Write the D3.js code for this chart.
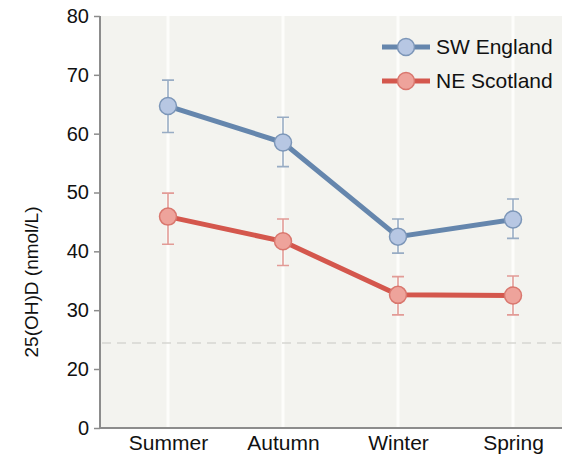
<!DOCTYPE html>
<html lang="en">
<head>
  <meta charset="UTF-8">
  <title>25(OH)D by season</title>
  <script src="https://cdn.jsdelivr.net/npm/d3@7"></script>
  <style>
    body { margin: 0; background: #fff; }
    svg { display: block; font-family: "Liberation Sans", Arial, sans-serif; }
  </style>
</head>
<body>
<div id="chart"></div>
<script>
  // data
  const seasons = ["Summer", "Autumn", "Winter", "Spring"];
  const swMean = [64.7, 58.5, 42.5, 45.4];
  const swLow  = [60.2, 54.4, 39.7, 42.2];
  const swHigh = [69.1, 62.8, 45.5, 48.9];
  const neMean = [45.9, 41.7, 32.6, 32.5];
  const neLow  = [41.2, 37.6, 29.2, 29.2];
  const neHigh = [49.9, 45.5, 35.7, 35.8];
  const yTicks = [0, 20, 30, 40, 50, 60, 70, 80];
  const threshold = 24.4;

  const width = 564, height = 458;
  const plotL = 100, plotR = 562, plotT = 16, plotB = 428;

  const series = [
    { name: "SW England", mean: swMean, low: swLow, high: swHigh,
      line: "#6586ad", fill: "#b7c7e3", stroke: "#7c96b8", err: "#98acc4" },
    { name: "NE Scotland", mean: neMean, low: neLow, high: neHigh,
      line: "#d4574d", fill: "#eea39b", stroke: "#d9776e", err: "#e29b96" }
  ];

  const x = d3.scalePoint().domain(seasons).range([168, 513]);
  // axis is broken between 0 and 20
  const y = d3.scaleLinear().domain([0, 20, 80]).range([plotB, 369, plotT]);

  const svg = d3.select("#chart").append("svg")
    .attr("width", width)
    .attr("height", height);

  svg.append("rect")
    .attr("x", plotL).attr("y", plotT)
    .attr("width", plotR - plotL).attr("height", plotB - plotT)
    .attr("fill", "#f3f3ef");

  // white vertical grid lines
  svg.append("g").selectAll("line")
    .data(seasons)
    .join("line")
    .attr("x1", d => x(d)).attr("x2", d => x(d))
    .attr("y1", plotT).attr("y2", plotB)
    .attr("stroke", "#fdfdfb")
    .attr("stroke-width", 3);

  // reference line
  svg.append("line")
    .attr("x1", plotL + 2).attr("x2", plotR)
    .attr("y1", y(threshold)).attr("y2", y(threshold))
    .attr("stroke", "#d6d6d2")
    .attr("stroke-width", 1.5)
    .attr("stroke-dasharray", "9,6");

  // axes
  const yAxis = svg.append("g")
    .attr("transform", `translate(${plotL},0)`)
    .call(d3.axisLeft(y).tickValues(yTicks).tickSize(6).tickPadding(5).tickFormat(d3.format("d")));
  yAxis.select(".domain").attr("stroke", "#8c8c8c").attr("stroke-width", 2)
    .attr("d", `M0,${plotT}V${plotB}`);
  yAxis.selectAll(".tick line").attr("stroke", "#8c8c8c").attr("stroke-width", 1.5);
  yAxis.selectAll(".tick text").attr("fill", "#111").style("font-size", "20px");

  const xAxis = svg.append("g")
    .attr("transform", `translate(0,${plotB})`)
    .call(d3.axisBottom(x).tickSize(0).tickPadding(7));
  xAxis.select(".domain").attr("stroke", "#8c8c8c").attr("stroke-width", 2)
    .attr("d", `M${plotL},0H${plotR}`);
  xAxis.selectAll(".tick text").attr("fill", "#111").style("font-size", "21px");

  svg.append("text")
    .attr("transform", `translate(38,282) rotate(-90)`)
    .attr("text-anchor", "middle")
    .attr("fill", "#111")
    .style("font-size", "19px")
    .text("25(OH)D (nmol/L)");

  const line = d3.line().x((d, i) => x(seasons[i])).y(d => y(d));

  series.forEach(s => {
    const g = svg.append("g");
    // error bars
    seasons.forEach((c, i) => {
      const cx = x(c);
      g.append("path")
        .attr("d", `M${cx - 6},${y(s.high[i])}H${cx + 6}M${cx},${y(s.high[i])}V${y(s.low[i])}M${cx - 6},${y(s.low[i])}H${cx + 6}`)
        .attr("fill", "none")
        .attr("stroke", s.err)
        .attr("stroke-width", 1.6);
    });
    g.append("path")
      .datum(s.mean)
      .attr("d", line)
      .attr("fill", "none")
      .attr("stroke", s.line)
      .attr("stroke-width", 5);
    g.selectAll("circle")
      .data(s.mean)
      .join("circle")
      .attr("cx", (d, i) => x(seasons[i]))
      .attr("cy", d => y(d))
      .attr("r", 8.5)
      .attr("fill", s.fill)
      .attr("stroke", s.stroke)
      .attr("stroke-width", 1.5);
  });

  // legend
  const legend = svg.append("g")
    .selectAll("g")
    .data(series)
    .join("g")
    .attr("transform", (d, i) => `translate(382,${47 + i * 34})`);
  legend.append("line")
    .attr("x1", 0).attr("x2", 48)
    .attr("stroke", d => d.line)
    .attr("stroke-width", 5);
  legend.append("circle")
    .attr("cx", 24).attr("r", 8.5)
    .attr("fill", d => d.fill)
    .attr("stroke", d => d.stroke)
    .attr("stroke-width", 1.5);
  legend.append("text")
    .attr("x", 54).attr("dy", "0.35em")
    .attr("fill", "#111")
    .style("font-size", "21px")
    .text(d => d.name);
</script>
</body>
</html>
